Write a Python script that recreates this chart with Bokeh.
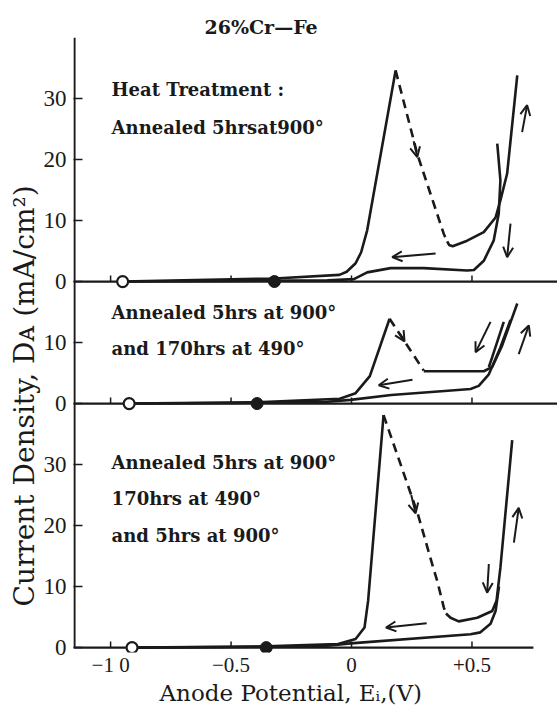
from bokeh.plotting import figure
from bokeh.models import Label, Arrow, OpenHead, FixedTicker, Range1d, Title
from bokeh.embed import file_html
from bokeh.resources import INLINE

# ---------------- data ----------------
x_ticks = [-1.0, -0.5, 0.0, 0.5]
x_tick_labels = ["−1 0", "−0.5", "0", "+0.5"]
panel_ticks = [0, 10, 20, 30]

# panel offsets on the shared vertical scale (bottom, middle, top)
off_bot, off_mid, off_top = 0, 40, 60

# Top panel: Annealed 5hrs at 900
top_fwd_x = [-0.95, -0.32, -0.05, -0.02, 0.017, 0.04, 0.065, 0.183]
top_fwd_y = [0.0, 0.5, 1.1, 1.6, 3.0, 4.8, 8.4, 34.6]
top_dash_x = [0.183, 0.273, 0.383, 0.397]
top_dash_y = [34.6, 20.9, 7.8, 6.6]
top_pass_x = [0.397, 0.405, 0.42, 0.48, 0.549, 0.598, 0.618, 0.646, 0.688]
top_pass_y = [6.6, 6.0, 5.8, 6.7, 8.1, 10.5, 13.3, 17.7, 33.8]
top_rev_x = [0.605, 0.618, 0.611, 0.590, 0.549, 0.508, 0.480, 0.30, 0.162, 0.065, 0.01, -0.1, -0.5, -0.95]
top_rev_y = [22.6, 16.6, 11.1, 6.7, 3.4, 1.9, 1.8, 2.2, 2.2, 1.5, 0.4, 0.2, 0.1, 0.0]
top_circ_open, top_circ_fill = -0.95, -0.32

# Middle panel: + 170hrs at 490
mid_fwd_x = [-0.923, -0.392, -0.049, 0.017, 0.076, 0.158]
mid_fwd_y = [0.0, 0.2, 0.8, 1.7, 4.5, 13.9]
mid_dash_x = [0.158, 0.300]
mid_dash_y = [13.9, 5.4]
mid_pass_x = [0.300, 0.40, 0.549, 0.584, 0.625, 0.688]
mid_pass_y = [5.3, 5.3, 5.3, 6.0, 9.5, 16.4]
mid_rev_x = [0.660, 0.618, 0.570, 0.528, 0.494, 0.40, 0.165, -0.004, -0.1, -0.5, -0.923]
mid_rev_y = [13.7, 9.2, 4.8, 2.9, 2.4, 2.1, 1.4, 0.6, 0.3, 0.1, 0.0]
mid_extra_x = [0.632, 0.584, 0.570]
mid_extra_y = [13.4, 7.6, 6.0]
mid_circ_open, mid_circ_fill = -0.923, -0.392

# Bottom panel: + 5hrs at 900
bot_fwd_x = [-0.911, -0.354, -0.056, 0.017, 0.054, 0.069, 0.133]
bot_fwd_y = [0.0, 0.2, 0.6, 1.4, 3.3, 7.7, 38.1]
bot_dash_x = [0.133, 0.276, 0.334, 0.356, 0.383, 0.392]
bot_dash_y = [38.1, 21.8, 13.8, 10.9, 6.6, 5.6]
bot_pass_x = [0.392, 0.411, 0.445, 0.522, 0.584, 0.602, 0.618, 0.667]
bot_pass_y = [5.6, 4.9, 4.3, 4.9, 6.0, 7.7, 13.1, 34.0]
bot_rev_x = [0.612, 0.598, 0.577, 0.535, 0.494, -0.004, -0.1, -0.5, -0.911]
bot_rev_y = [10.0, 6.0, 3.9, 2.5, 2.2, 0.7, 0.3, 0.1, 0.0]
bot_circ_open, bot_circ_fill = -0.911, -0.354

# sweep-direction arrows: (x_start, y_start, x_end, y_end) in panel units
top_arrows = [(0.349, 4.6, 0.169, 4.0), (0.708, 24.5, 0.729, 28.9),
              (0.660, 9.5, 0.646, 4.0), (0.258, 23.0, 0.273, 20.4)]
mid_arrows = [(0.253, 3.9, 0.113, 3.0), (0.577, 13.4, 0.515, 8.4),
              (0.694, 8.1, 0.736, 12.8), (0.200, 11.5, 0.220, 10.2)]
bot_arrows = [(0.312, 4.0, 0.143, 3.3), (0.570, 13.7, 0.563, 9.0),
              (0.674, 17.2, 0.694, 22.9), (0.248, 25.0, 0.266, 22.0)]

top_texts = ["Heat Treatment :", "Annealed 5hrsat900°"]
mid_texts = ["Annealed 5hrs at 900°", "and 170hrs at 490°"]
bot_texts = ["Annealed 5hrs at 900°", "170hrs at 490°", "and 5hrs at 900°"]

title_text = "26%Cr—Fe"
x_title = "Anode Potential, Eᵢ,(V)"
y_title = "Current Density, Dᴀ (mA/cm²)"

# ---------------- figure ----------------
X0, X1 = -1.154, 0.855
Y0, Y1 = -0.8, 100.0
p = figure(width=557, height=708, x_range=Range1d(X0, X1), y_range=Range1d(Y0, Y1),
           output_backend="svg", toolbar_location=None, title=None,
           min_border_left=73, min_border_right=0, min_border_top=37, min_border_bottom=56)
p.outline_line_color = None
p.xgrid.grid_line_color = None
p.ygrid.grid_line_color = None
p.background_fill_color = "white"

INK = "#1a1a1a"
TICK_FONT = "Liberation Serif"

# y axis with panel-wise tick labels
yt, ylab = [], {}
for off, n in ((off_bot, 4), (off_mid, 2), (off_top, 4)):
    for t in panel_ticks[:n]:
        yt.append(off + t)
        ylab[off + t] = str(t)
p.yaxis.ticker = FixedTicker(ticks=yt)
p.yaxis.major_label_overrides = ylab
p.yaxis.minor_tick_line_color = None
p.yaxis.major_tick_in = 9
p.yaxis.major_tick_out = 0
p.yaxis.axis_line_color = None
p.yaxis.major_tick_line_width = 1.5
p.yaxis.major_tick_line_color = INK
p.yaxis.major_label_text_font = TICK_FONT
p.yaxis.major_label_text_font_size = "23px"
p.yaxis.major_label_text_color = INK
p.yaxis.major_label_standoff = 7

p.xaxis.ticker = FixedTicker(ticks=x_ticks)
p.xaxis.major_label_overrides = {t: l for t, l in zip(x_ticks, x_tick_labels)}
p.xaxis.minor_tick_line_color = None
p.xaxis.axis_line_color = None
p.xaxis.major_tick_in = 0
p.xaxis.major_tick_out = 0
p.xaxis.major_tick_line_color = None
p.xaxis.major_label_text_font = TICK_FONT
p.xaxis.major_label_text_font_size = "21px"
p.xaxis.major_label_text_color = INK
p.xaxis.major_label_standoff = 0

# titles placed as side panels (labels outside the frame are clipped)
p.add_layout(Title(text=title_text, align="left", offset=131, standoff=0,
                   text_font="DejaVu Serif", text_font_size="19px",
                   text_font_style="bold", text_color=INK), "above")
p.add_layout(Title(text=x_title, align="left", offset=86, standoff=0,
                   vertical_align="top", text_font="DejaVu Serif",
                   text_font_size="23px", text_font_style="normal",
                   text_color=INK), "below")
p.add_layout(Title(text=y_title, align="left", offset=46, standoff=0,
                   text_font="DejaVu Serif", text_font_size="28px",
                   text_font_style="normal", text_color=INK), "left")

# vertical axis line (ends at the lowest baseline)
p.segment(x0=[X0 + 0.004], y0=[0], x1=[X0 + 0.004], y1=[Y1], line_color=INK, line_width=2.2)
# baselines
p.segment(x0=[X0, X0, X0], y0=[off_bot, off_mid, off_top], x1=[0.755, X1, X1],
          y1=[off_bot, off_mid, off_top], line_color=INK, line_width=2.2)
# x ticks on every baseline
for off in (off_bot, off_mid, off_top):
    p.segment(x0=x_ticks, y0=[off] * 4, x1=x_ticks, y1=[off + 1.0] * 4,
              line_color=INK, line_width=1.5)

def shift(ys, off):
    return [v + off for v in ys]

LW = 2.6
panels = [
    (off_top, top_fwd_x, top_fwd_y, top_dash_x, top_dash_y, top_pass_x, top_pass_y,
     top_rev_x, top_rev_y, top_circ_open, top_circ_fill, top_arrows),
    (off_mid, mid_fwd_x, mid_fwd_y, mid_dash_x, mid_dash_y, mid_pass_x, mid_pass_y,
     mid_rev_x, mid_rev_y, mid_circ_open, mid_circ_fill, mid_arrows),
    (off_bot, bot_fwd_x, bot_fwd_y, bot_dash_x, bot_dash_y, bot_pass_x, bot_pass_y,
     bot_rev_x, bot_rev_y, bot_circ_open, bot_circ_fill, bot_arrows),
]
for (off, fx, fy, dx, dy, px_, py_, rx, ry, co, cf, arrows) in panels:
    p.line(fx, shift(fy, off), line_color=INK, line_width=LW, line_join="round")
    p.line(dx, shift(dy, off), line_color=INK, line_width=LW, line_dash="9 6")
    p.line(px_, shift(py_, off), line_color=INK, line_width=LW, line_join="round")
    p.line(rx, shift(ry, off), line_color=INK, line_width=LW, line_join="round")
    p.scatter([co], [off], size=11, marker="circle", fill_color="white",
              line_color=INK, line_width=2.2)
    p.scatter([cf], [off], size=12, marker="circle", fill_color=INK, line_color=INK)
    for (xs, ys, xe, ye) in arrows:
        p.add_layout(Arrow(end=OpenHead(size=10, line_width=2, line_color=INK),
                           x_start=xs, y_start=ys + off, x_end=xe, y_end=ye + off,
                           line_width=2, line_color=INK))

p.line(mid_extra_x, shift(mid_extra_y, off_mid), line_color=INK, line_width=LW)

# annotation texts
ANN_FONT = "DejaVu Serif"
def px2y(py):
    return (647 - py) / 6.1
def px2x(px):
    return (px - 351) / 241

for txts, pys in ((top_texts, (89, 127)), (mid_texts, (312, 348)),
                  (bot_texts, (462, 498, 535))):
    for txt, py in zip(txts, pys):
        p.add_layout(Label(x=px2x(111), y=px2y(py), text=txt, text_font=ANN_FONT,
                           text_font_size="18px", text_font_style="bold", text_color=INK,
                           text_baseline="middle", text_align="left"))

open("out.html", "w").write(file_html(p, INLINE))
